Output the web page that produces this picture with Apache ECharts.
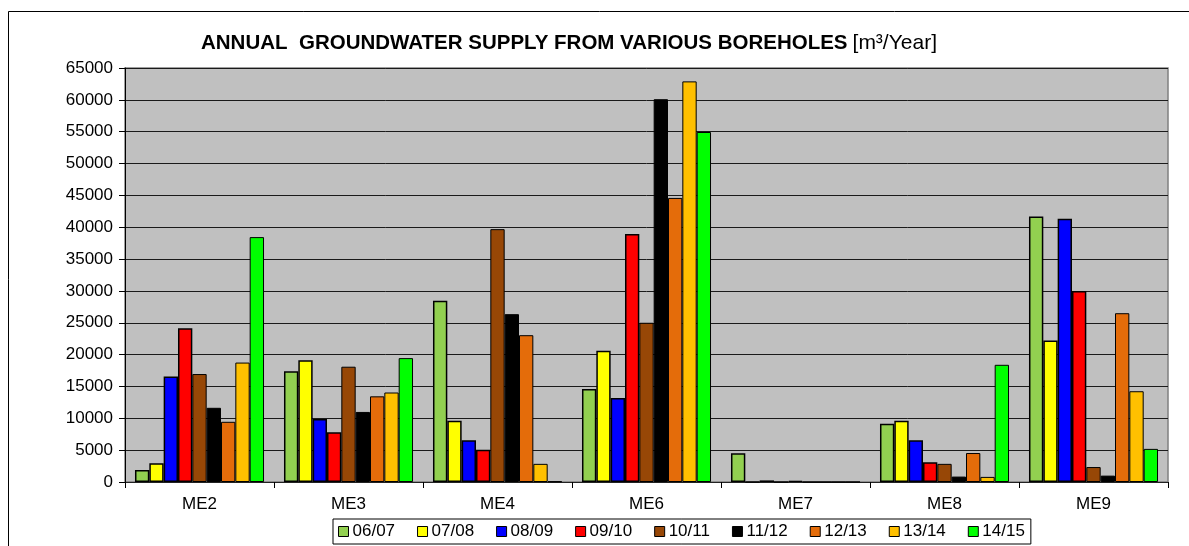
<!DOCTYPE html>
<html>
<head>
<meta charset="utf-8">
<style>
    html, body{ margin: 0; padding: 0; background: #fff;}
    #chart1{ width: 1189px; height: 546px;}
</style>
<script src="https://cdn.jsdelivr.net/npm/echarts@6/dist/echarts.min.js"></script>
</head>
<body>
<div id="chart1"></div>
<script>
    // boreholes along the x axis
    var boreholes = ['ME2', 'ME3', 'ME4', 'ME6', 'ME7', 'ME8', 'ME9'];
    // one series per water year, values in m3/year
    var years = ['06/07', '07/08', '08/09', '09/10', '10/11', '11/12', '12/13', '13/14', '14/15'];
    var y0607 = [1900, 17400, 28450, 14600, 4500, 9150, 41700];
    var y0708 = [2950, 19100, 9600, 20600, 0, 9600, 22200];
    var y0809 = [16550, 9900, 6550, 13200, 250, 6550, 41350];
    var y0910 = [24150, 7800, 5050, 38950, 0, 3100, 30000];
    var y1011 = [16950, 18100, 39700, 25000, 200, 2850, 2350];
    var y1112 = [11650, 11000, 26350, 60100, 0, 850, 1000];
    var y1213 = [9450, 13450, 23050, 44600, 0, 4550, 26500];
    var y1314 = [18750, 14050, 2850, 62900, 0, 800, 14250];
    var y1415 = [38450, 19450, 100, 54950, 0, 18400, 5200];
    var yTicks = [0, 65000, 5000]; // min, max, step

    var seriesData = [y0607, y0708, y0809, y0910, y1011, y1112, y1213, y1314, y1415];
    var colors = ['#92D050', '#FFFF00', '#0000FF', '#FF0000', '#974706', '#000000', '#E46C0A', '#FFC000', '#00FF00'];
    var font = '"Liberation Sans", Arial, sans-serif';

    var chart = echarts.init(document.getElementById('chart1'));
    chart.setOption({
        animation: false,
        title: {
            left: 196, top: 28,
            text: '{b|ANNUAL  GROUNDWATER SUPPLY FROM VARIOUS BOREHOLES} {n|[m³/Year]}',
            textStyle: {
                rich: {
                    b: {fontFamily: font, fontSize: 20.5, fontWeight: 'bold', color: '#000'},
                    n: {fontFamily: font, fontSize: 21, fontWeight: 'normal', color: '#000'}
                }
            }
        },
        graphic: [{
            type: 'rect', left: 6, top: 9, silent: true,
            shape: {width: 1200, height: 600},
            style: {fill: 'none', stroke: '#000', lineWidth: 1}
        }],
        legend: {
            left: 333, top: 519,
            data: years,
            itemWidth: 10, itemHeight: 10, itemGap: 22,
            icon: 'rect',
            padding: [4, 6, 4, 5],
            borderColor: '#000', borderWidth: 1,
            itemStyle: {borderColor: '#000', borderWidth: 1},
            textStyle: {fontFamily: font, fontSize: 17, color: '#000', padding: [0, 0, 0, -1]}
        },
        grid: {
            left: 125, right: 21, top: 68, bottom: 64,
            show: true, backgroundColor: '#C0C0C0', borderColor: '#808080', borderWidth: 1.5
        },
        xAxis: {
            type: 'category',
            data: boreholes,
            axisLine: {lineStyle: {color: '#222', width: 1}},
            axisTick: {show: true, length: 6, lineStyle: {color: '#000'}},
            axisLabel: {fontFamily: font, fontSize: 17, color: '#000', margin: 14}
        },
        yAxis: {
            type: 'value',
            min: yTicks[0], max: yTicks[1], interval: yTicks[2],
            axisLine: {show: true, lineStyle: {color: '#000', width: 1}},
            axisTick: {show: true, length: 6, lineStyle: {color: '#000'}},
            axisLabel: {fontFamily: font, fontSize: 17, color: '#000', margin: 12, formatter: function(v){ return String(v); }},
            splitLine: {lineStyle: {color: '#1a1a1a', width: 1}}
        },
        series: seriesData.map(function(d, i){
            return {
                name: years[i],
                type: 'bar',
                data: d,
                barGap: '0%',
                barCategoryGap: '13.4%',
                itemStyle: {color: colors[i], borderColor: '#000', borderWidth: i < 4 ? 1.5 : 1}
            };
        })
    });
</script>
</body>
</html>
